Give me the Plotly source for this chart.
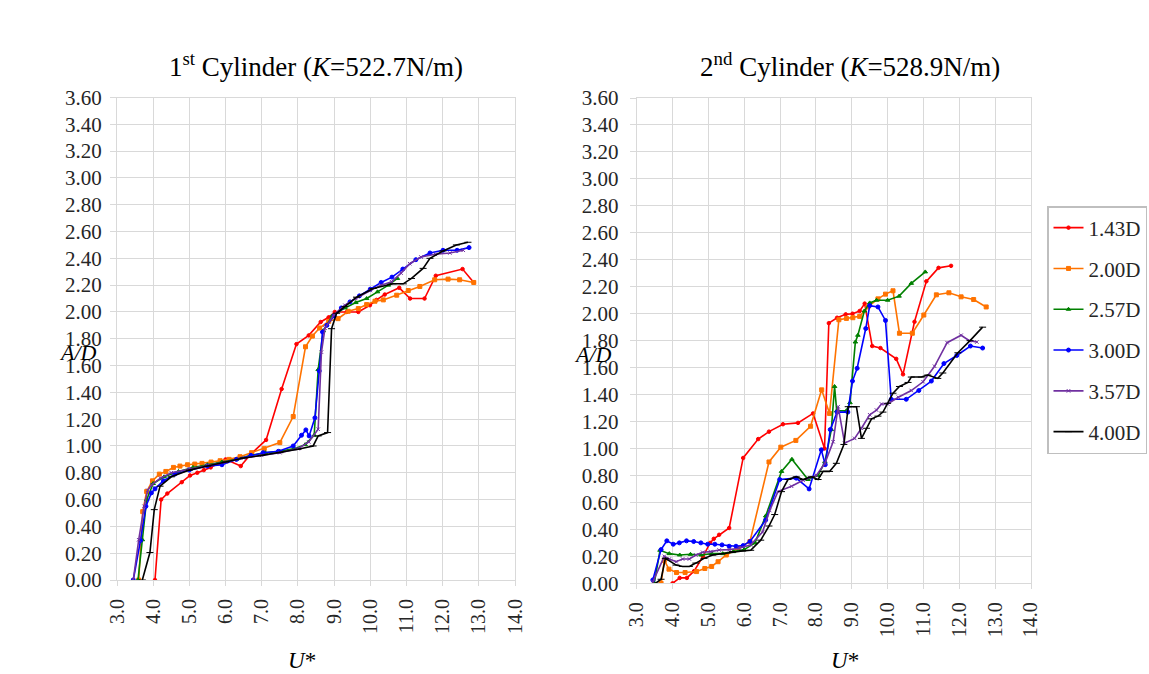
import plotly.graph_objects as go

# ---------------- data: 1st cylinder ----------------
l143_x = [4.05, 4.22, 4.39, 4.79, 5.02, 5.22, 5.40, 5.59, 5.80, 6.00, 6.42, 6.72, 7.12, 7.55, 7.96, 8.30, 8.63, 8.85, 9.02, 9.35, 9.67, 9.99, 10.17, 10.40, 10.80, 11.10, 11.50, 11.81, 12.55, 12.86]
l143_y = [0.00, 0.60, 0.645, 0.73, 0.78, 0.80, 0.82, 0.84, 0.87, 0.90, 0.85, 0.945, 1.045, 1.425, 1.76, 1.825, 1.925, 1.96, 2.00, 2.00, 2.00, 2.05, 2.09, 2.13, 2.18, 2.10, 2.10, 2.27, 2.32, 2.22]

l200_x = [3.60, 3.71, 3.82, 3.98, 4.17, 4.35, 4.56, 4.74, 4.95, 5.15, 5.35, 5.60, 5.85, 6.10, 6.40, 6.72, 7.07, 7.50, 7.87, 8.21, 8.40, 8.60, 8.85, 9.11, 9.39, 9.67, 9.90, 10.13, 10.36, 10.73, 11.05, 11.37, 11.78, 12.15, 12.47, 12.86]
l200_y = [0.00, 0.51, 0.66, 0.74, 0.79, 0.81, 0.84, 0.85, 0.86, 0.865, 0.87, 0.88, 0.89, 0.90, 0.92, 0.95, 0.98, 1.025, 1.22, 1.74, 1.82, 1.88, 1.93, 1.95, 2.005, 2.025, 2.055, 2.08, 2.09, 2.125, 2.16, 2.19, 2.24, 2.245, 2.24, 2.22]

l257_x = [3.58, 3.70, 3.82, 4.00, 4.30, 4.70, 5.10, 5.50, 5.90, 6.30, 6.70, 7.10, 7.50, 7.90, 8.20, 8.45, 8.56, 8.70, 8.95, 9.30, 9.60, 9.90, 10.20, 10.50, 10.75]
l257_y = [0.00, 0.30, 0.60, 0.72, 0.77, 0.81, 0.84, 0.86, 0.88, 0.90, 0.93, 0.95, 0.96, 0.98, 1.01, 1.08, 1.57, 1.86, 1.97, 2.03, 2.07, 2.10, 2.15, 2.20, 2.25]

l300_x = [3.45, 3.65, 3.80, 3.95, 4.05, 4.28, 4.60, 5.00, 5.50, 5.90, 6.30, 6.70, 7.04, 7.46, 7.87, 8.10, 8.22, 8.31, 8.47, 8.59, 8.68, 8.80, 9.00, 9.20, 9.44, 9.70, 10.00, 10.30, 10.60, 10.90, 11.26, 11.65, 12.01, 12.40, 12.73]
l300_y = [0.00, 0.295, 0.55, 0.65, 0.68, 0.74, 0.79, 0.82, 0.85, 0.86, 0.90, 0.93, 0.95, 0.96, 1.00, 1.08, 1.12, 1.075, 1.21, 1.56, 1.85, 1.90, 1.97, 2.03, 2.075, 2.12, 2.17, 2.22, 2.26, 2.32, 2.39, 2.44, 2.46, 2.46, 2.48]

l357_x = [3.45, 3.60, 3.75, 3.85, 3.96, 4.20, 4.50, 5.00, 5.50, 6.00, 6.50, 7.00, 7.50, 8.00, 8.30, 8.56, 8.65, 8.75, 9.00, 9.30, 9.60, 10.00, 10.30, 10.59, 10.85, 11.09, 11.40, 11.80, 12.20, 12.57]
l357_y = [0.00, 0.30, 0.55, 0.67, 0.71, 0.76, 0.80, 0.83, 0.855, 0.88, 0.91, 0.93, 0.95, 0.98, 1.03, 1.125, 1.70, 1.88, 1.98, 2.05, 2.10, 2.16, 2.20, 2.225, 2.29, 2.36, 2.41, 2.43, 2.44, 2.46]

l400_x = [3.70, 3.91, 4.03, 4.19, 4.50, 5.00, 5.50, 6.00, 6.50, 7.00, 7.50, 8.00, 8.42, 8.56, 8.82, 8.93, 9.07, 9.30, 9.62, 10.08, 10.63, 10.91, 11.14, 11.46, 11.65, 12.01, 12.38, 12.70]
l400_y = [0.00, 0.205, 0.525, 0.70, 0.77, 0.82, 0.85, 0.88, 0.91, 0.93, 0.95, 0.975, 1.00, 1.075, 1.10, 1.875, 1.99, 2.04, 2.11, 2.175, 2.21, 2.21, 2.25, 2.325, 2.40, 2.455, 2.50, 2.52]

# ---------------- data: 2nd cylinder ----------------
r143_x = [4.00, 4.20, 4.40, 4.60, 4.85, 5.05, 5.15, 5.30, 5.58, 5.97, 6.39, 6.69, 7.08, 7.50, 7.92, 8.24, 8.36, 8.59, 8.83, 9.02, 9.22, 9.36, 9.57, 9.80, 10.24, 10.43, 10.75, 11.08, 11.42, 11.77]
r143_y = [0.00, 0.04, 0.04, 0.09, 0.20, 0.30, 0.33, 0.36, 0.41, 0.93, 1.07, 1.125, 1.18, 1.19, 1.26, 1.00, 1.93, 1.97, 1.995, 2.00, 2.02, 2.075, 1.76, 1.745, 1.665, 1.55, 1.94, 2.24, 2.34, 2.355]

r200_x = [3.68, 3.77, 3.90, 4.11, 4.35, 4.67, 4.90, 5.09, 5.27, 5.50, 5.83, 6.16, 6.69, 7.02, 7.44, 7.85, 8.16, 8.38, 8.64, 8.85, 9.03, 9.22, 9.45, 9.73, 9.94, 10.15, 10.33, 10.69, 11.01, 11.36, 11.71, 12.05, 12.40, 12.75]
r200_y = [0.00, 0.17, 0.105, 0.08, 0.08, 0.087, 0.11, 0.125, 0.16, 0.21, 0.26, 0.31, 0.90, 1.01, 1.06, 1.165, 1.435, 1.26, 1.955, 1.965, 1.97, 1.98, 2.05, 2.11, 2.145, 2.17, 1.855, 1.855, 1.99, 2.14, 2.155, 2.125, 2.105, 2.05]

r257_x = [3.49, 3.65, 3.91, 4.20, 4.50, 4.80, 5.10, 5.40, 5.70, 6.00, 6.30, 6.60, 7.04, 7.33, 7.78, 8.06, 8.25, 8.43, 8.52, 8.58, 8.85, 8.95, 9.10, 9.17, 9.35, 9.50, 9.69, 10.00, 10.32, 10.66, 11.05]
r257_y = [0.00, 0.245, 0.22, 0.21, 0.215, 0.21, 0.22, 0.22, 0.235, 0.25, 0.30, 0.50, 0.83, 0.92, 0.77, 0.80, 0.90, 1.14, 1.46, 1.28, 1.28, 1.34, 1.79, 1.84, 2.02, 2.08, 2.10, 2.10, 2.13, 2.225, 2.31]

r300_x = [3.45, 3.68, 3.84, 4.02, 4.19, 4.39, 4.59, 4.79, 4.98, 5.18, 5.38, 5.58, 5.77, 5.97, 6.16, 6.60, 6.99, 7.45, 7.81, 8.15, 8.26, 8.40, 8.59, 8.89, 9.02, 9.15, 9.39, 9.50, 9.73, 9.94, 10.10, 10.52, 10.87, 11.22, 11.57, 11.93, 12.31, 12.65]
r300_y = [0.025, 0.25, 0.315, 0.29, 0.30, 0.315, 0.31, 0.30, 0.29, 0.29, 0.285, 0.275, 0.275, 0.28, 0.31, 0.47, 0.77, 0.78, 0.70, 0.99, 0.88, 1.14, 1.27, 1.27, 1.50, 1.595, 1.89, 2.06, 2.05, 1.95, 1.365, 1.365, 1.43, 1.50, 1.63, 1.69, 1.76, 1.745]

r357_x = [3.45, 3.77, 3.91, 4.10, 4.28, 4.47, 4.65, 4.84, 5.07, 5.30, 5.58, 5.86, 6.18, 6.51, 6.71, 6.94, 7.32, 7.64, 8.01, 8.25, 8.48, 8.62, 8.80, 9.08, 9.27, 9.50, 9.69, 9.83, 10.00, 10.30, 10.66, 10.99, 11.31, 11.66, 12.05, 12.28, 12.49]
r357_y = [0.01, 0.20, 0.18, 0.16, 0.18, 0.18, 0.21, 0.23, 0.235, 0.247, 0.25, 0.26, 0.285, 0.38, 0.54, 0.68, 0.72, 0.765, 0.80, 0.89, 1.05, 1.31, 1.04, 1.075, 1.15, 1.25, 1.285, 1.33, 1.33, 1.38, 1.43, 1.495, 1.61, 1.785, 1.84, 1.80, 1.79]

r400_x = [3.52, 3.68, 3.80, 4.10, 4.28, 4.47, 4.65, 4.88, 5.12, 5.40, 5.67, 5.95, 6.18, 6.46, 6.69, 6.85, 7.04, 7.22, 7.45, 7.64, 7.87, 8.06, 8.20, 8.38, 8.57, 8.78, 8.90, 9.13, 9.27, 9.41, 9.55, 9.73, 9.87, 10.00, 10.15, 10.33, 10.57, 10.66, 10.94, 11.12, 11.40, 11.54, 11.96, 12.30, 12.65]
r400_y = [0.00, 0.03, 0.185, 0.135, 0.125, 0.125, 0.15, 0.185, 0.21, 0.22, 0.235, 0.24, 0.245, 0.32, 0.425, 0.51, 0.68, 0.77, 0.79, 0.77, 0.79, 0.77, 0.83, 0.83, 0.89, 1.03, 1.31, 1.31, 1.075, 1.15, 1.22, 1.24, 1.27, 1.335, 1.41, 1.46, 1.49, 1.53, 1.53, 1.545, 1.52, 1.56, 1.71, 1.80, 1.90]

names = ["1.43D", "2.00D", "2.57D", "3.00D", "3.57D", "4.00D"]
colors = ["#FF0000", "#FF7300", "#008000", "#0000FF", "#7030A0", "#000000"]
symbols = ["circle", "square", "triangle-up", "circle", "x-thin", "line-ew"]
msizes = [3.5, 4, 4, 4, 3.5, 5]

left_series = [(l143_x, l143_y), (l200_x, l200_y), (l257_x, l257_y),
               (l300_x, l300_y), (l357_x, l357_y), (l400_x, l400_y)]
right_series = [(r143_x, r143_y), (r200_x, r200_y), (r257_x, r257_y),
                (r300_x, r300_y), (r357_x, r357_y), (r400_x, r400_y)]

fig = go.Figure()

for i, (xs, ys) in enumerate(left_series):
    fig.add_trace(go.Scatter(
        x=xs, y=ys, mode="lines+markers", name=names[i],
        line=dict(color=colors[i], width=1.6),
        marker=dict(symbol=symbols[i], size=msizes[i], color=colors[i],
                    line=dict(color=colors[i], width=1)),
        xaxis="x", yaxis="y", showlegend=False))

for i, (xs, ys) in enumerate(right_series):
    fig.add_trace(go.Scatter(
        x=xs, y=ys, mode="lines+markers", name=names[i],
        line=dict(color=colors[i], width=1.6),
        marker=dict(symbol=symbols[i], size=msizes[i], color=colors[i],
                    line=dict(color=colors[i], width=1)),
        xaxis="x2", yaxis="y2", showlegend=True, legendgroup="g%d" % i))

W, H = 1149, 674
grid = "#D9D9D9"
serif = "Liberation Serif"
ytickfont = dict(family=serif, size=21, color="#262626")
xtickfont = dict(family=serif, size=20, color="#262626")

def xax(domain, anchor):
    return dict(domain=domain, anchor=anchor, range=[3, 14], dtick=1, tick0=3,
                tickformat=".1f", tickangle=-90, showgrid=True, gridcolor=grid,
                gridwidth=1, showline=True, linecolor=grid, mirror=True,
                ticks="outside", ticklen=5, tickcolor=grid, zeroline=False,
                tickfont=xtickfont, ticklabelstandoff=5, automargin=False)

def yax(domain, anchor, standoff):
    return dict(domain=domain, anchor=anchor, range=[0, 3.6], dtick=0.2, tick0=0,
                tickformat=".2f", showgrid=True, gridcolor=grid, gridwidth=1,
                showline=True, linecolor=grid, mirror=True, ticks="outside",
                ticklen=6, tickcolor=grid, zeroline=False, tickfont=ytickfont,
                ticklabelstandoff=standoff, automargin=False)

fig.update_layout(
    width=W, height=H,
    margin=dict(l=0, r=0, t=0, b=0),
    paper_bgcolor="white", plot_bgcolor="white",
    xaxis=xax([117 / W, 515 / W], "y"),
    yaxis=yax([(H - 580) / H, (H - 97.5) / H], "x", 4),
    xaxis2=xax([636.7 / W, 1031 / W], "y2"),
    yaxis2=yax([(H - 583.3) / H, (H - 98) / H], "x2", 7),
    legend=dict(x=1047 / W, y=(H - 206) / H, xanchor="left", yanchor="top",
                bordercolor="#BFBFBF", borderwidth=1.5, bgcolor="white",
                font=dict(family=serif, size=21, color="#262626"),
                traceorder="grouped", tracegroupgap=10.5, itemwidth=30),
    showlegend=True,
)

ann = [
    dict(x=316 / W, y=(H - 65) / H, text="1<sup>st</sup> Cylinder (<i>K</i>=522.7N/m)", size=27),
    dict(x=850 / W, y=(H - 65) / H, text="2<sup>nd</sup> Cylinder (<i>K</i>=528.9N/m)", size=27),
    dict(x=78 / W, y=(H - 353) / H, text="<i>A/D</i>", size=22),
    dict(x=593 / W, y=(H - 354) / H, text="<i>A/D</i>", size=22),
    dict(x=302 / W, y=(H - 660) / H, text="<i>U</i>*", size=23),
    dict(x=845 / W, y=(H - 660) / H, text="<i>U</i>*", size=23),
]
for a in ann:
    fig.add_annotation(x=a["x"], y=a["y"], xref="paper", yref="paper",
                       text=a["text"], showarrow=False, xanchor="center", yanchor="middle",
                       font=dict(family=serif, size=a["size"], color="#000000"))

fig.write_html("out.html")
